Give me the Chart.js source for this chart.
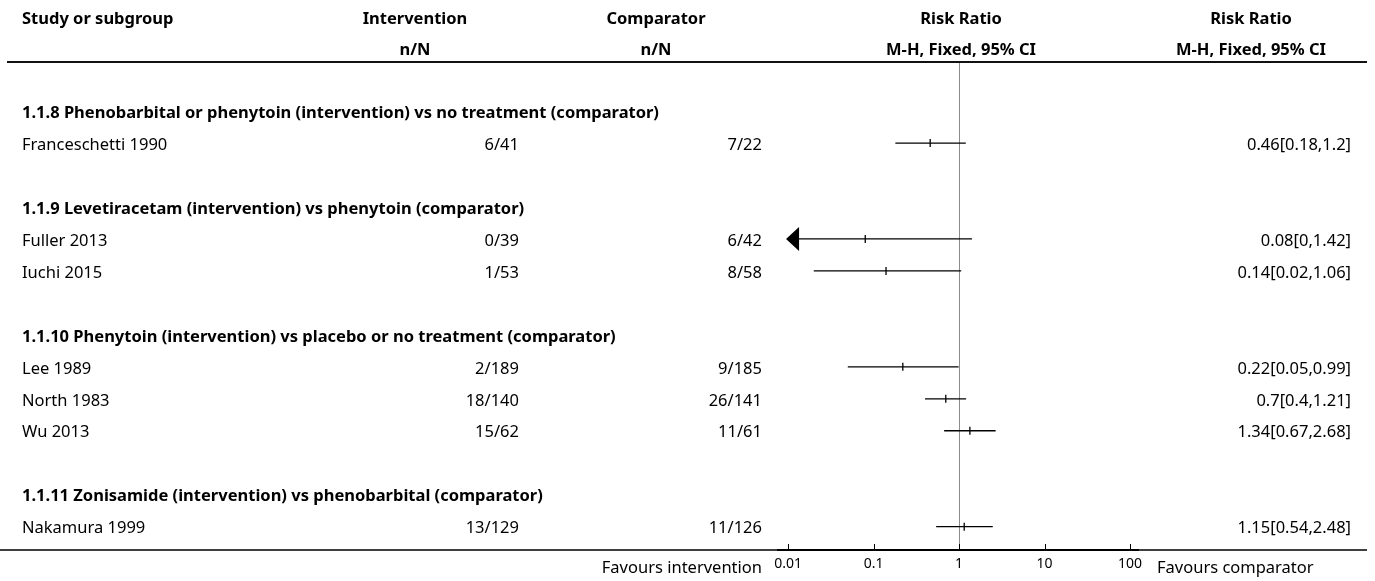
<!DOCTYPE html>
<html>
<head>
<meta charset="utf-8">
<script src="https://cdn.jsdelivr.net/npm/chart.js@4.4.1/dist/chart.umd.min.js"></script>
<style>
  html, body { margin: 0; padding: 0; background: #fff; }
  #wrap { width: 1375px; height: 581px; }
</style>
</head>
<body>
<div id="wrap"><canvas id="forest"></canvas></div>
<script>
// rows: 0 = first subgroup heading, counting down one line per row
var groupNames = [
  "1.1.8 Phenobarbital or phenytoin (intervention) vs no treatment (comparator)",
  "1.1.9 Levetiracetam (intervention) vs phenytoin (comparator)",
  "1.1.10 Phenytoin (intervention) vs placebo or no treatment (comparator)",
  "1.1.11 Zonisamide (intervention) vs phenobarbital (comparator)"
];
var groupRows = [0, 3, 7, 12];

var studies = ["Franceschetti 1990", "Fuller 2013", "Iuchi 2015", "Lee 1989", "North 1983", "Wu 2013", "Nakamura 1999"];
var studyRows = [1, 4, 5, 8, 9, 10, 13];
var interventionN = ["6/41", "0/39", "1/53", "2/189", "18/140", "15/62", "13/129"];
var comparatorN = ["7/22", "6/42", "8/58", "9/185", "26/141", "11/61", "11/126"];
var riskRatio = [0.46, 0.08, 0.14, 0.22, 0.7, 1.34, 1.15];
var ciLow = [0.18, 0, 0.02, 0.05, 0.4, 0.67, 0.54];
var ciHigh = [1.2, 1.42, 1.06, 0.99, 1.21, 2.68, 2.48];

var xTicks = [0.01, 0.1, 1, 10, 100];
var xMin = 0.00763, xMax = 124;

var FONT = '"Noto Sans", "Open Sans", sans-serif';
var SIZE = 16.5;

var tablePlugin = {
  id: "forestTable",
  beforeDatasetsDraw: function (chart) {
    var ctx = chart.ctx, xs = chart.scales.x, ys = chart.scales.y, area = chart.chartArea;
    var W = chart.width;
    ctx.save();
    // bottom rule of the table
    ctx.strokeStyle = "#000";
    ctx.lineWidth = 1.5;
    ctx.beginPath();
    ctx.moveTo(0, area.bottom);
    ctx.lineTo(W - 8, area.bottom);
    ctx.stroke();

    // line of no effect
    var x1 = Math.round(xs.getPixelForValue(1)) + 0.5;
    ctx.strokeStyle = "#8c8c8c";
    ctx.lineWidth = 1;
    ctx.beginPath();
    ctx.moveTo(x1, area.top);
    ctx.lineTo(x1, area.bottom);
    ctx.stroke();

    // confidence intervals
    ctx.strokeStyle = "#000";
    ctx.fillStyle = "#000";
    ctx.lineWidth = 1.3;
    studies.forEach(function (s, i) {
      var y = ys.getPixelForValue(studyRows[i]);
      var right = xs.getPixelForValue(ciHigh[i]);
      var left;
      if (ciLow[i] < xTicks[0]) {
        // off-scale lower limit: arrow
        var tip = xs.getPixelForValue(xTicks[0]) - 2;
        left = tip + 6;
        ctx.beginPath();
        ctx.moveTo(tip, y);
        ctx.lineTo(tip + 13, y - 12);
        ctx.lineTo(tip + 13, y + 12);
        ctx.closePath();
        ctx.fill();
      } else {
        left = xs.getPixelForValue(ciLow[i]);
      }
      ctx.beginPath();
      ctx.moveTo(left, y);
      ctx.lineTo(right, y);
      ctx.stroke();
    });

    // tick marks pointing up from the axis
    ctx.lineWidth = 1;
    xTicks.forEach(function (t) {
      var x = Math.round(xs.getPixelForValue(t)) + 0.5;
      ctx.beginPath();
      ctx.moveTo(x, area.bottom);
      ctx.lineTo(x, area.bottom - 6);
      ctx.stroke();
    });
    ctx.restore();
  },
  afterDraw: function (chart) {
    var ctx = chart.ctx, xs = chart.scales.x, ys = chart.scales.y, area = chart.chartArea;
    var W = chart.width;
    var colStudy = 22, colInt = 519, colIntHead = 415, colComp = 762, colCompHead = 656;
    var colRR = 1351, colRRHead = 1251, plotHead = xs.getPixelForValue(1) + 2;
    ctx.save();
    ctx.fillStyle = "#000";
    ctx.textBaseline = "middle";

    // header
    ctx.font = "bold " + SIZE + "px " + FONT;
    ctx.textAlign = "left";
    ctx.fillText("Study or subgroup", colStudy, 19);
    ctx.textAlign = "center";
    ctx.fillText("Intervention", colIntHead, 19);
    ctx.fillText("n/N", colIntHead, 50);
    ctx.fillText("Comparator", colCompHead, 19);
    ctx.fillText("n/N", colCompHead, 50);
    ctx.fillText("Risk Ratio", plotHead, 19);
    ctx.fillText("M-H, Fixed, 95% CI", plotHead, 50);
    ctx.fillText("Risk Ratio", colRRHead, 19);
    ctx.fillText("M-H, Fixed, 95% CI", colRRHead, 50);

    // header rule
    ctx.strokeStyle = "#111";
    ctx.lineWidth = 2;
    ctx.beginPath();
    ctx.moveTo(7, area.top);
    ctx.lineTo(W - 8, area.top);
    ctx.stroke();

    // subgroup headings
    ctx.textAlign = "left";
    groupNames.forEach(function (g, i) {
      ctx.fillText(g, colStudy, ys.getPixelForValue(groupRows[i]) + 2);
    });

    // study rows
    ctx.font = SIZE + "px " + FONT;
    studies.forEach(function (s, i) {
      var y = ys.getPixelForValue(studyRows[i]) + 2;
      ctx.textAlign = "left";
      ctx.fillText(s, colStudy, y);
      ctx.textAlign = "right";
      ctx.fillText(interventionN[i], colInt, y);
      ctx.fillText(comparatorN[i], colComp, y);
      ctx.fillText(riskRatio[i] + "[" + ciLow[i] + "," + ciHigh[i] + "]", colRR, y);
    });

    // favours labels
    ctx.textAlign = "right";
    ctx.fillText("Favours intervention", colComp, 568);
    ctx.textAlign = "left";
    ctx.fillText("Favours comparator", xs.right + 19, 568);
    ctx.restore();
  }
};

var ctx = document.getElementById("forest").getContext("2d");
var forest = new Chart(ctx, {
  type: "scatter",
  data: {
    datasets: [
      {
        label: "Risk Ratio",
        data: riskRatio.map(function (v, i) { return { x: v, y: studyRows[i] }; }),
        pointStyle: "line",
        rotation: 90,
        radius: 4,
        hoverRadius: 4,
        borderWidth: 1.3,
        borderColor: "#000",
        backgroundColor: "#000",
        showLine: false
      }
    ]
  },
  options: {
    responsive: true,
    maintainAspectRatio: false,
    animation: false,
    events: [],
    layout: { padding: { left: 778, right: 237, top: 62, bottom: 0 } },
    plugins: { legend: { display: false }, tooltip: { enabled: false } },
    scales: {
      x: {
        type: "logarithmic",
        min: xMin,
        max: xMax,
        afterBuildTicks: function (scale) {
          scale.ticks = xTicks.map(function (v) { return { value: v }; });
        },
        afterFit: function (scale) { scale.height = 31; },
        grid: { display: false, drawTicks: false },
        border: { display: true, color: "#000", width: 2 },
        ticks: {
          autoSkip: false,
          maxRotation: 0,
          padding: 6,
          color: "#000",
          font: { family: FONT, size: 14 },
          callback: function (v) { return String(v); }
        }
      },
      y: {
        type: "linear",
        reverse: true,
        min: -1.536,
        max: 13.73,
        display: false
      }
    }
  },
  plugins: [tablePlugin]
});
</script>
</body>
</html>
